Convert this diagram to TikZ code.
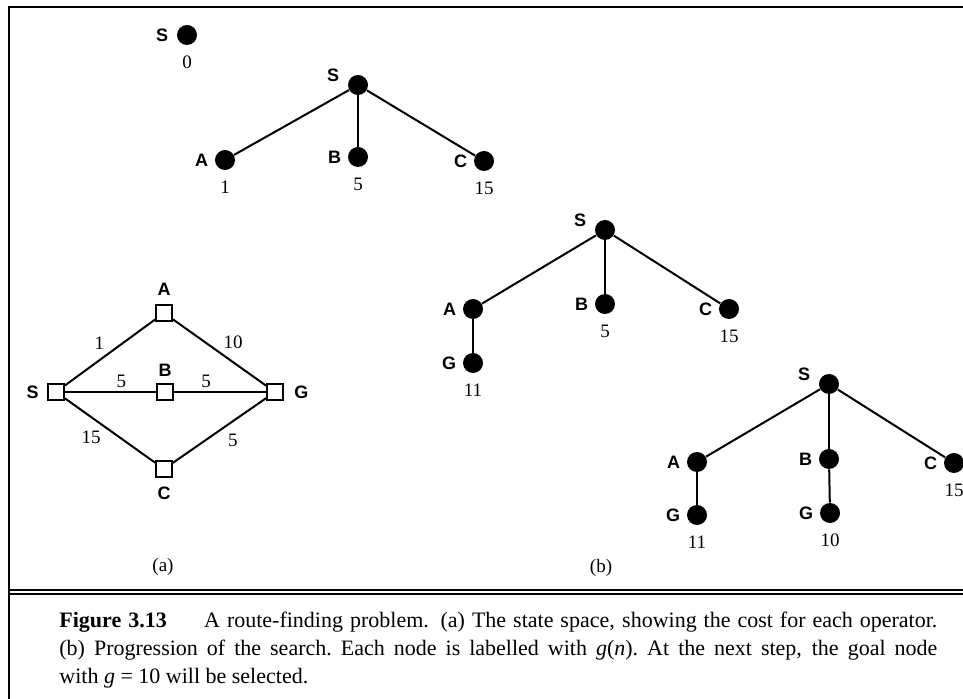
\documentclass[tikz,border=0pt]{standalone}
\usepackage{fontspec}
\setmainfont{Liberation Serif}
\newfontfamily\lblfont{Liberation Sans}

\tikzset{
    dot/.style={circle, fill=black, inner sep=0pt, minimum size=10pt},
    sq/.style={rectangle, draw=black, line width=0.9pt, fill=white, inner sep=0pt, minimum size=8pt},
    lbl/.style={font=\lblfont\bfseries\fontsize{9}{10}\selectfont, inner sep=1.5pt, label distance=1.5pt},
    rootlbl/.style={lbl, yshift=5pt, label distance=2.5pt},
    num/.style={font=\fontsize{9.5}{11}\selectfont, inner sep=1.5pt, label distance=3.5pt},
    edge/.style={line width=1pt},
}

\begin{document}
\begin{tikzpicture}[x=0.5pt, y=-0.5pt]
        \useasboundingbox (0,0) rectangle (963,699);

        % Cornice e doppia riga sopra la didascalia
        \draw[line width=1pt] (9,699) -- (9,7) -- (963,7);
        \draw[line width=1pt] (8,590) -- (963,590);
        \draw[line width=0.8pt] (8,594) -- (963,594);

        % (a) spazio degli stati
        \node[sq, label={[lbl, label distance=2.5pt]above:A}] (sa) at (164,313) {};
        \node[sq, label={[lbl, label distance=2.5pt]left:S}] (ss) at (56,392) {};
        \node[sq, label={[lbl]above:B}] (sb) at (165,392) {};
        \node[sq, label={[lbl, label distance=3.5pt]right:G}] (sg) at (275,392) {};
        \node[sq, label={[lbl, label distance=3pt]below:C}] (sc) at (164,469) {};
        \draw[edge] (ss) -- node[num, above left, pos=0.48] {1} (sa);
        \draw[edge] (sa) -- node[num, above right, pos=0.5] {10} (sg);
        \draw[edge] (ss) -- node[num, above, pos=0.62] {5} (sb);
        \draw[edge] (sb) -- node[num, above, pos=0.35] {5} (sg);
        \draw[edge] (ss) -- node[num, below left, pos=0.44] {15} (sc);
        \draw[edge] (sc) -- node[num, below right, pos=0.55, yshift=-1.5pt] {5} (sg);
        \node[num] (capa) at (163,567) {(a)};

        % (b) primo passo
        \node[dot, label={[lbl, label distance=2.5pt]left:S}, label={[num]below:0}] (s0) at (187,35) {};

        % (b) secondo passo
        \node[dot, label={[rootlbl]left:S}] (s1) at (358,85) {};
        \node[dot, label={[lbl]left:A}, label={[num]below:1}] (a1) at (225,160) {};
        \node[dot, label={[lbl]left:B}, label={[num]below:5}] (b1) at (358,157) {};
        \node[dot, label={[lbl]left:C}, label={[num]below:15}] (c1) at (484,161) {};
        \draw[edge] (s1) -- (a1);
        \draw[edge] (s1) -- (b1);
        \draw[edge] (s1) -- (c1);

        % (b) terzo passo
        \node[dot, label={[rootlbl]left:S}] (s2) at (605,230) {};
        \node[dot, label={[lbl]left:A}] (a2) at (473,309) {};
        \node[dot, label={[lbl]left:B}, label={[num]below:5}] (b2) at (605,304) {};
        \node[dot, label={[lbl]left:C}, label={[num]below:15}] (c2) at (729,309) {};
        \node[dot, label={[lbl]left:G}, label={[num]below:11}] (g2) at (473,363) {};
        \draw[edge] (s2) -- (a2);
        \draw[edge] (s2) -- (b2);
        \draw[edge] (s2) -- (c2);
        \draw[edge] (a2) -- (g2);

        % (b) quarto passo
        \node[dot, label={[rootlbl]left:S}] (s3) at (829,384) {};
        \node[dot, label={[lbl]left:A}] (a3) at (697,462) {};
        \node[dot, label={[lbl]left:B}] (b3) at (829,459) {};
        \node[dot, label={[lbl]left:C}, label={[num]below:15}] (c3) at (954,463) {};
        \node[dot, label={[lbl]left:G}, label={[num]below:11}] (ga3) at (697,515) {};
        \node[dot, label={[lbl]left:G}, label={[num]below:10}] (gb3) at (830,513) {};
        \draw[edge] (s3) -- (a3);
        \draw[edge] (s3) -- (b3);
        \draw[edge] (s3) -- (c3);
        \draw[edge] (a3) -- (ga3);
        \draw[edge] (b3) -- (gb3);
        \node[num] (capb) at (601,568) {(b)};

        % Didascalia
        \node[anchor=west, align=justify, text width=439pt, inner sep=0pt, font=\fontsize{11}{14}\selectfont] (caption) at (59,650)
            {\textbf{Figure 3.13}\hspace{1.7em}A route-finding problem. (a) The state space, showing the cost for each operator.\linebreak
             (b) Progression of the search.\ Each node is labelled with \textit{g}(\textit{n}).\ At the next step, the goal node\linebreak
             with \textit{g} = 10 will be selected.};
    \end{tikzpicture}
\end{document}
